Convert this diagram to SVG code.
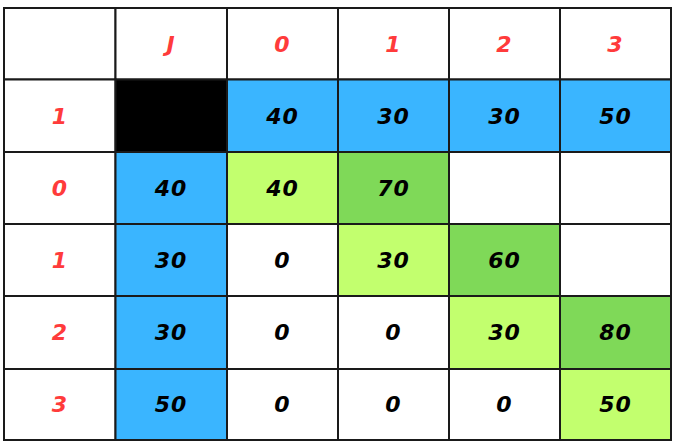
<svg xmlns="http://www.w3.org/2000/svg" width="676" height="446" viewBox="0 0 676 446">
<style>
.c{stroke:#1a1a1a;stroke-width:2}
.w{fill:#ffffff}
.b{fill:#3ab5ff}
.k{fill:#000000}
.lg{fill:#c2ff6e}
.dg{fill:#7fd958}
text{font-family:"DejaVu Sans","Liberation Sans",sans-serif;font-weight:bold;font-style:italic;font-size:22px;letter-spacing:1px;text-anchor:middle}
.h{fill:#ff3b3b}
.v{fill:#000000}
</style>
<rect width="676" height="446" fill="#ffffff"/>
<g id="header">
<g id="h-corner"><rect class="c w" x="4" y="8" width="111.5" height="71.5"/></g>
<g id="h-J"><rect class="c w" x="115.5" y="8" width="111.5" height="71.5"/><text class="h" x="171" y="52">J</text></g>
<g id="h-0"><rect class="c w" x="227" y="8" width="111" height="71.5"/><text class="h" x="282.5" y="52">0</text></g>
<g id="h-1"><rect class="c w" x="338" y="8" width="111" height="71.5"/><text class="h" x="393.5" y="52">1</text></g>
<g id="h-2"><rect class="c w" x="449" y="8" width="111" height="71.5"/><text class="h" x="504.5" y="52">2</text></g>
<g id="h-3"><rect class="c w" x="560" y="8" width="111" height="71.5"/><text class="h" x="615.5" y="52">3</text></g>
</g>
<g id="row1">
<g id="r1-label"><rect class="c w" x="4" y="79.5" width="111.5" height="72.5"/><text class="h" x="60" y="124">1</text></g>
<g id="r1-J"><rect class="c k" x="115.5" y="79.5" width="111.5" height="72.5"/></g>
<g id="r1-0"><rect class="c b" x="227" y="79.5" width="111" height="72.5"/><text class="v" x="282.5" y="124">40</text></g>
<g id="r1-1"><rect class="c b" x="338" y="79.5" width="111" height="72.5"/><text class="v" x="393.5" y="124">30</text></g>
<g id="r1-2"><rect class="c b" x="449" y="79.5" width="111" height="72.5"/><text class="v" x="504.5" y="124">30</text></g>
<g id="r1-3"><rect class="c b" x="560" y="79.5" width="111" height="72.5"/><text class="v" x="615.5" y="124">50</text></g>
</g>
<g id="row0">
<g id="r0-label"><rect class="c w" x="4" y="152" width="111.5" height="72"/><text class="h" x="60" y="196">0</text></g>
<g id="r0-J"><rect class="c b" x="115.5" y="152" width="111.5" height="72"/><text class="v" x="171" y="196">40</text></g>
<g id="r0-0"><rect class="c lg" x="227" y="152" width="111" height="72"/><text class="v" x="282.5" y="196">40</text></g>
<g id="r0-1"><rect class="c dg" x="338" y="152" width="111" height="72"/><text class="v" x="393.5" y="196">70</text></g>
<g id="r0-2"><rect class="c w" x="449" y="152" width="111" height="72"/></g>
<g id="r0-3"><rect class="c w" x="560" y="152" width="111" height="72"/></g>
</g>
<g id="row1b">
<g id="r1b-label"><rect class="c w" x="4" y="224" width="111.5" height="72"/><text class="h" x="60" y="268">1</text></g>
<g id="r1b-J"><rect class="c b" x="115.5" y="224" width="111.5" height="72"/><text class="v" x="171" y="268">30</text></g>
<g id="r1b-0"><rect class="c w" x="227" y="224" width="111" height="72"/><text class="v" x="282.5" y="268">0</text></g>
<g id="r1b-1"><rect class="c lg" x="338" y="224" width="111" height="72"/><text class="v" x="393.5" y="268">30</text></g>
<g id="r1b-2"><rect class="c dg" x="449" y="224" width="111" height="72"/><text class="v" x="504.5" y="268">60</text></g>
<g id="r1b-3"><rect class="c w" x="560" y="224" width="111" height="72"/></g>
</g>
<g id="row2">
<g id="r2-label"><rect class="c w" x="4" y="296" width="111.5" height="73"/><text class="h" x="60" y="340">2</text></g>
<g id="r2-J"><rect class="c b" x="115.5" y="296" width="111.5" height="73"/><text class="v" x="171" y="340">30</text></g>
<g id="r2-0"><rect class="c w" x="227" y="296" width="111" height="73"/><text class="v" x="282.5" y="340">0</text></g>
<g id="r2-1"><rect class="c w" x="338" y="296" width="111" height="73"/><text class="v" x="393.5" y="340">0</text></g>
<g id="r2-2"><rect class="c lg" x="449" y="296" width="111" height="73"/><text class="v" x="504.5" y="340">30</text></g>
<g id="r2-3"><rect class="c dg" x="560" y="296" width="111" height="73"/><text class="v" x="615.5" y="340">80</text></g>
</g>
<g id="row3">
<g id="r3-label"><rect class="c w" x="4" y="369" width="111.5" height="71"/><text class="h" x="60" y="412">3</text></g>
<g id="r3-J"><rect class="c b" x="115.5" y="369" width="111.5" height="71"/><text class="v" x="171" y="412">50</text></g>
<g id="r3-0"><rect class="c w" x="227" y="369" width="111" height="71"/><text class="v" x="282.5" y="412">0</text></g>
<g id="r3-1"><rect class="c w" x="338" y="369" width="111" height="71"/><text class="v" x="393.5" y="412">0</text></g>
<g id="r3-2"><rect class="c w" x="449" y="369" width="111" height="71"/><text class="v" x="504.5" y="412">0</text></g>
<g id="r3-3"><rect class="c lg" x="560" y="369" width="111" height="71"/><text class="v" x="615.5" y="412">50</text></g>
</g>
</svg>
